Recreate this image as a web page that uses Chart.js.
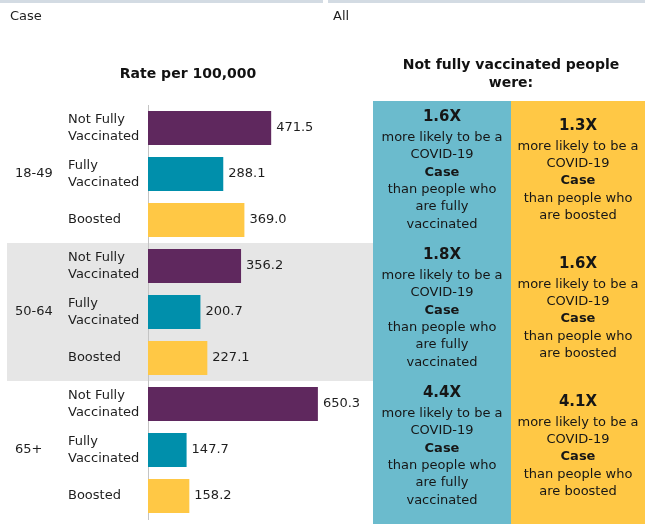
<!DOCTYPE html>
<html><head><meta charset="utf-8">
<script src="https://cdn.jsdelivr.net/npm/chart.js@4.4.1/dist/chart.umd.min.js"></script>
<style>html,body{margin:0;padding:0;background:#fff;overflow:hidden}canvas{display:block}</style>
</head><body>
<canvas id="c" width="645" height="524"></canvas>
<script>
const ageGroups = ['18-49', '50-64', '65+'];
const statusLabels = [['Not Fully', 'Vaccinated'], ['Fully', 'Vaccinated'], ['Boosted']];
const rates = [471.5, 288.1, 369.0, 356.2, 200.7, 227.1, 650.3, 147.7, 158.2];
const ratioVsFully = [1.6, 1.8, 4.4];
const ratioVsBoosted = [1.3, 1.6, 4.1];
const metric = 'Case';
const scopeLabel = 'All';
const chartTitle = 'Rate per 100,000';
const panelTitle = ['Not fully vaccinated people', 'were:'];
const fullyLines = ['more likely to be a', 'COVID-19', metric, 'than people who', 'are fully', 'vaccinated'];
const boostedLines = ['more likely to be a', 'COVID-19', metric, 'than people who', 'are boosted'];

const FONT = '"DejaVu Sans", sans-serif';
const statusColors = ['#5f285e', '#008fab', '#ffc845'];
const TEXT = '#1e1e1e';
const categories = ageGroups.flatMap(() => statusLabels);

Chart.defaults.font.family = FONT;

const overlay = {
  id: 'overlay',
  beforeDraw(chart) {
    const { ctx, scales: { y } } = chart;
    const half = (y.getPixelForValue(1) - y.getPixelForValue(0)) / 2;
    ctx.save();
    ctx.fillStyle = '#d3dbe3';
    ctx.fillRect(0, 0, 323, 3);
    ctx.fillRect(328, 0, 317, 3);
    ctx.fillStyle = '#e6e6e6';
    const t = y.getPixelForValue(3) - half, b = y.getPixelForValue(5) + half;
    ctx.fillRect(7, t, 366, b - t);
    const pTop = y.getPixelForValue(0) - half - 4;
    ctx.fillStyle = '#6bbbcd';
    ctx.fillRect(373, pTop, 138, 524 - pTop);
    ctx.fillStyle = '#ffc845';
    ctx.fillRect(511, pTop, 134, 524 - pTop);
    ctx.restore();
  },
  afterDraw(chart) {
    const { ctx, scales: { y } } = chart;
    ctx.save();
    ctx.fillStyle = TEXT;
    ctx.textBaseline = 'middle';
    ctx.textAlign = 'left';
    ctx.font = '13px ' + FONT;
    ctx.fillText(metric, 10, 17);
    ctx.fillText(scopeLabel, 333, 17);
    ageGroups.forEach((g, i) => ctx.fillText(g, 15, y.getPixelForValue(i * 3 + 1)));
    const meta = chart.getDatasetMeta(0);
    meta.data.forEach((el, i) => ctx.fillText(rates[i].toFixed(1), el.x + 5, el.y));
    ctx.textAlign = 'center';
    ctx.font = 'bold 14px ' + FONT;
    ctx.fillStyle = '#111';
    ctx.fillText(chartTitle, 188, 74);
    ctx.fillText(panelTitle[0], 511, 65);
    ctx.fillText(panelTitle[1], 511, 83);
    const drawBlock = (cx, cy, head, lines) => {
      const n = lines.length + 1;
      const span = 20 + (n - 2) * 17.4;
      let yy = cy - 3 - span / 2;
      ctx.font = 'bold 15px ' + FONT;
      ctx.fillText(head, cx, yy);
      yy += 20;
      lines.forEach(l => {
        ctx.font = (l === metric ? 'bold ' : '') + '13px ' + FONT;
        ctx.fillText(l, cx, yy);
        yy += 17.4;
      });
    };
    ctx.fillStyle = '#161616';
    ageGroups.forEach((g, i) => {
      const cy = y.getPixelForValue(i * 3 + 1);
      drawBlock(442, cy, ratioVsFully[i].toFixed(1) + 'X', fullyLines);
      drawBlock(578, cy, ratioVsBoosted[i].toFixed(1) + 'X', boostedLines);
    });
    ctx.restore();
  }
};

new Chart(document.getElementById('c'), {
  type: 'bar',
  data: {
    labels: categories,
    datasets: [{
      data: rates,
      backgroundColor: rates.map((_, i) => statusColors[i % 3]),
      categoryPercentage: 1,
      barPercentage: 0.74,
      borderWidth: 0
    }]
  },
  options: {
    indexAxis: 'y',
    responsive: false,
    animation: false,
    devicePixelRatio: 1,
    layout: { padding: { left: 68, top: 105, right: 288, bottom: 5 } },
    plugins: { legend: { display: false }, tooltip: { enabled: false }, title: { display: false } },
    scales: {
      x: { display: false, min: 0, max: 800 },
      y: {
        position: 'left',
        grid: { display: true, color: 'rgba(0,0,0,0)', drawTicks: false },
        border: { display: true, color: '#c4c4c4', dash: [2, 2], width: 1 },
        ticks: { crossAlign: 'far', padding: 0, color: TEXT, font: { size: 13, lineHeight: 1.3 } },
        afterFit(s) { s.width = 80; s.paddingTop = 0; s.paddingBottom = 0; }
      }
    }
  },
  plugins: [overlay]
});
</script>
</body></html>
